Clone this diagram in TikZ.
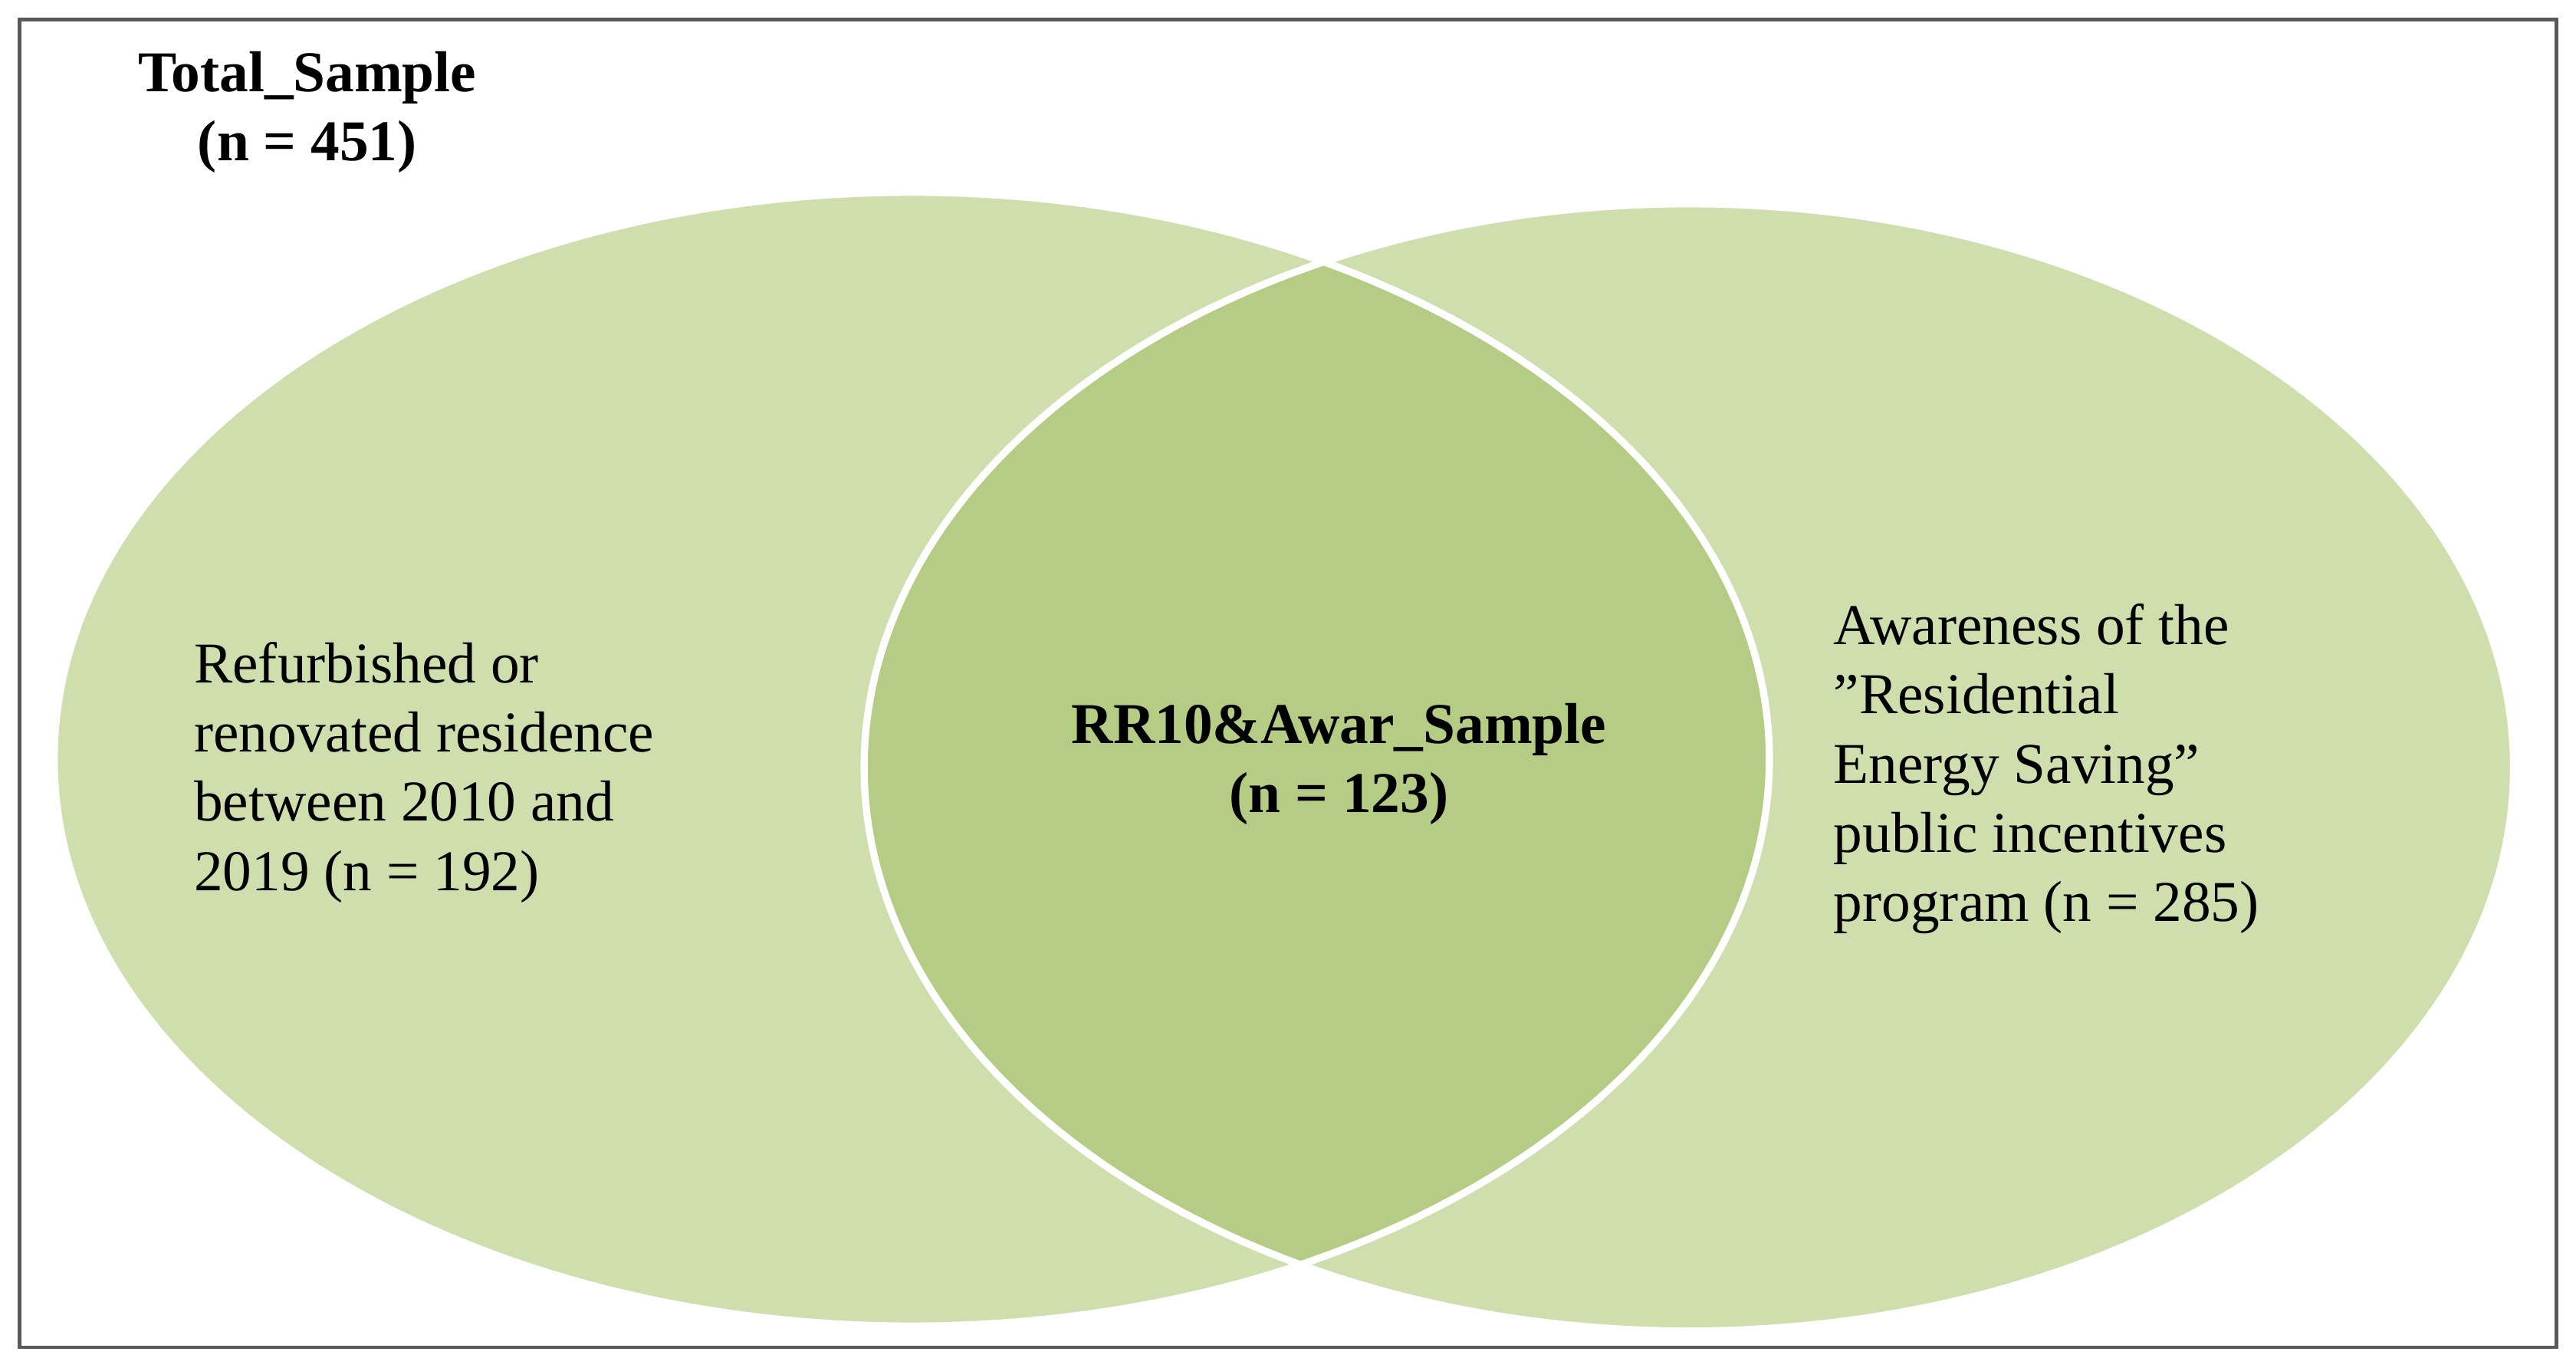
\documentclass[tikz,border=0pt]{standalone}
\usepackage{fontspec}
\setmainfont{Liberation Serif}
\begin{document}
\begin{tikzpicture}[x=0.02cm,y=-0.02cm,
  lbl/.style={font=\fontsize{20}{24}\selectfont,align=left,anchor=west},
  blbl/.style={font=\bfseries\fontsize{20}{24}\selectfont,align=center}]
\definecolor{lg}{HTML}{CFDEAD}
\definecolor{dg}{HTML}{B5CC85}
\useasboundingbox (0,0) rectangle (1568,832.5);
\fill[white] (0,0) rectangle (1568,832.5);
\draw[gray!70!black,line width=1.2pt] (12,12) rectangle (1556,820);
\path (555,462) coordinate (cl) (1028,467) coordinate (cr);
\fill[lg] (cl) ellipse [x radius=522,y radius=345];
\fill[lg] (cr) ellipse [x radius=502,y radius=343];
\begin{scope}
\clip (cl) ellipse [x radius=522,y radius=345];
\fill[dg] (cr) ellipse [x radius=502,y radius=343];
\end{scope}
\draw[white,line width=2.5pt] (cl) ellipse [x radius=522,y radius=345];
\draw[white,line width=2.5pt] (cr) ellipse [x radius=502,y radius=343];
\node[blbl,anchor=north] (t) at (187,25) {Total\_Sample\\(n = 451)};
\node[lbl] (l) at (112,470) {Refurbished or\\renovated residence\\between 2010 and\\2019 (n = 192)};
\node[blbl] (m) at (815,465) {RR10\&Awar\_Sample\\(n = 123)};
\node[lbl] (r) at (1110,468) {Awareness of the\\"Residential\\Energy Saving"\\public incentives\\program (n = 285)};
\end{tikzpicture}
\end{document}
